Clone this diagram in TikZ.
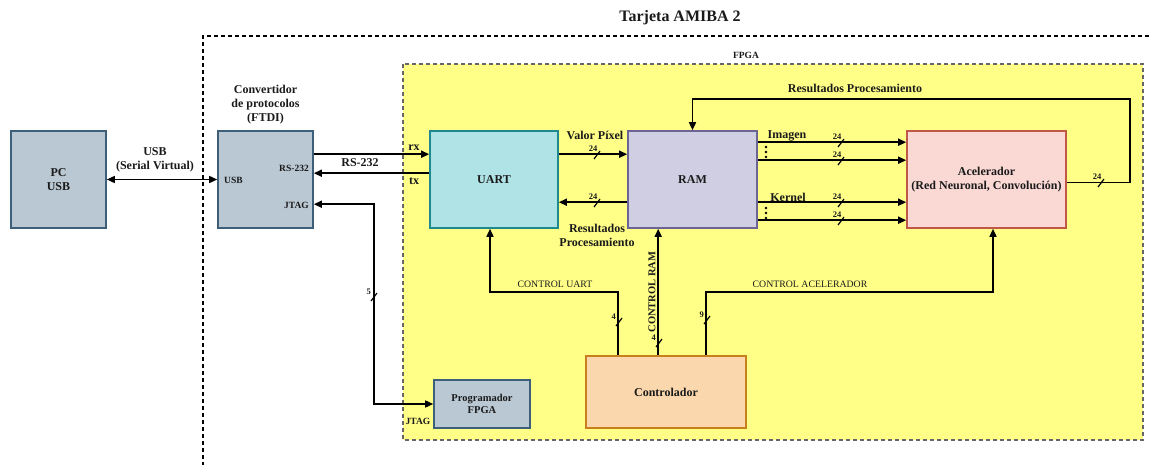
\documentclass[tikz,border=0pt]{standalone}
\usepackage{fontspec}
\setmainfont{Liberation Serif}
\usetikzlibrary{arrows.meta,calc}
\definecolor{bgfill}{HTML}{BAC8D3}
\definecolor{bgdraw}{HTML}{3D5F7A}
\definecolor{uafill}{HTML}{B0E3E6}
\definecolor{uadraw}{HTML}{1E8A90}
\definecolor{rmfill}{HTML}{D0CEE2}
\definecolor{rmdraw}{HTML}{6A6594}
\definecolor{acfill}{HTML}{FAD9D5}
\definecolor{acdraw}{HTML}{C0584A}
\definecolor{ctfill}{HTML}{FAD7AC}
\definecolor{ctdraw}{HTML}{C8801E}
\definecolor{fpgafill}{HTML}{FFFF88}
\definecolor{fpgadraw}{HTML}{666666}
\definecolor{txt}{HTML}{1A1A1A}
\begin{document}
\begin{tikzpicture}[x=1pt,y=-1pt,
  every node/.style={text=txt},
  box/.style={draw, line width=1.6pt, inner sep=0pt, align=center,
    font=\bfseries\fontsize{12}{14}\selectfont},
  lbl/.style={font=\bfseries\fontsize{12}{14}\selectfont, align=center, inner sep=0pt},
  small/.style={font=\bfseries\fontsize{9.5}{10}\selectfont, inner sep=0pt},
  ctl/.style={font=\fontsize{9.8}{11}\selectfont, inner sep=0pt},
  wire/.style={line width=1.5pt, draw=black},
  arr/.style={wire, -{Triangle[length=8pt,width=7pt]}},
  darr/.style={wire, {Triangle[length=8pt,width=7pt]}-{Triangle[length=8pt,width=7pt]}},
  bush/.pic={\draw[line width=1.2pt] (-3,4) -- (3,-4);
    \node[font=\bfseries\fontsize{8.5}{9}\selectfont, inner sep=0pt, anchor=south] at (-4,-3) {#1};},
  busv/.pic={\draw[line width=1.2pt] (-3,4) -- (3,-4);
    \node[font=\bfseries\fontsize{8.5}{9}\selectfont, inner sep=0pt, anchor=south east] at (-3,-2) {#1};},
  vdot/.style={fill=black, circle, inner sep=0pt, minimum size=2.6pt}
]
\useasboundingbox (0,0) rectangle (1150,465);
\clip (0,0) rectangle (1150,465);

% outer board
\draw[line width=1.3pt, dash pattern=on 4pt off 3pt] (203,480) -- (203,36) -- (1160,36);
\node[font=\bfseries\fontsize{16}{18}\selectfont, inner sep=0pt] (title) at (680,18) {Tarjeta AMIBA 2};

% FPGA region
\draw[fill=fpgafill, draw=fpgadraw, line width=1.3pt, dash pattern=on 4pt off 3pt] (403,64) rectangle (1143,440);
\node[small] (fpgalbl) at (746,55) {FPGA};

% blocks
\node[box, fill=bgfill, draw=bgdraw, minimum width=95pt, minimum height=97pt] (pc) at (58.5,179.5) {PC\\USB};
\node[box, fill=bgfill, draw=bgdraw, minimum width=95pt, minimum height=97pt] (conv) at (265.5,179.5) {};
\node[box, fill=uafill, draw=uadraw, minimum width=128pt, minimum height=97pt] (uart) at (494,179.5) {UART};
\node[box, fill=rmfill, draw=rmdraw, minimum width=129pt, minimum height=97pt] (ram) at (692.5,179.5) {RAM};
\node[box, fill=acfill, draw=acdraw, minimum width=159pt, minimum height=97pt] (acel) at (986.5,179.5) {Acelerador\\(Red Neuronal, Convolución)};
\node[box, fill=ctfill, draw=ctdraw, minimum width=160pt, minimum height=72pt] (ctrl) at (666,392) {Controlador};
\node[box, fill=bgfill, draw=bgdraw, minimum width=96pt, minimum height=48pt,
  font=\bfseries\fontsize{10.5}{12}\selectfont] (prog) at (482,404) {Programador\\FPGA};

% converter labels
\node[lbl] (convlbl) at (265.5,105) {Convertidor\\de protocolos\\(FTDI)};
\node[small, anchor=west] (cusb) at (224,180) {USB};
\node[small, anchor=east] (crs) at (309,168) {RS-232};
\node[small, anchor=east] (cjtag) at (309,205) {JTAG};

% PC <-> converter
\draw[darr] (pc.east) -- (conv.west);
\node[lbl] (usblbl) at (155,160) {USB\\(Serial Virtual)};

% RS-232 rx/tx
\draw[arr] ($(conv.north east)+(0,24)$) -- ($(uart.north west)+(0,24)$);
\draw[arr] ($(uart.north west)+(0,43)$) -- ($(conv.north east)+(0,43)$);
\node[lbl] (rslbl) at (360,163) {RS-232};
\node[lbl] (rxlbl) at (414,148) {rx};
\node[lbl] (txlbl) at (414,181) {tx};

% JTAG
\coordinate (jt) at (374,300);
\draw[darr] ($(conv.north east)+(0,74)$) -| (jt) |- (prog.west);
\pic at (374,297) {busv=5};
\node[small] (jtaglbl) at (418,421) {JTAG};

% UART <-> RAM
\draw[arr] ($(uart.north east)+(0,24)$) -- ($(ram.north west)+(0,24)$);
\pic at (597,155) {bush=24};
\node[lbl] (vplbl) at (595,135) {Valor Píxel};
\draw[arr] ($(ram.north west)+(0,72)$) -- ($(uart.north east)+(0,72)$);
\pic at (597,203) {bush=24};
\node[lbl] (rplbl) at (597,235) {Resultados\\Procesamiento};

% RAM -> Acelerador
\draw[arr] ($(ram.north east)+(0,12)$) -- ($(acel.north west)+(0,12)$);
\draw[arr] ($(ram.north east)+(0,30)$) -- ($(acel.north west)+(0,30)$);
\draw[arr] ($(ram.north east)+(0,72)$) -- ($(acel.north west)+(0,72)$);
\draw[arr] ($(ram.north east)+(0,90)$) -- ($(acel.north west)+(0,90)$);
\pic at (841,143) {bush=24};
\pic at (841,161) {bush=24};
\pic at (841,203) {bush=24};
\pic at (841,221) {bush=24};
\node[lbl] (imglbl) at (787,136) {Imagen};
\node[lbl] (kerlbl) at (788,197) {Kernel};
\node[vdot] (d1) at (766,147) {};
\node[vdot] (d2) at (766,152) {};
\node[vdot] (d3) at (766,157) {};
\node[vdot] (d4) at (766,208) {};
\node[vdot] (d5) at (766,213) {};
\node[vdot] (d6) at (766,218) {};

% feedback
\coordinate (fb) at (1130,99);
\draw[arr] ($(acel.east)+(0,3)$) -| (fb) -| (ram.north);
\pic at (1101,183) {bush=24};
\node[lbl] (fblbl) at (855,88) {Resultados Procesamiento};

% controller
\coordinate (cu) at (490,292);
\draw[arr] ($(ctrl.north west)+(33,0)$) |- (cu) -- ($(uart.south)+(-4,0)$);
\pic at (619,322) {busv=4};
\node[ctl] (culbl) at (555,284) {CONTROL UART};

\draw[arr] ($(ctrl.north west)+(73,0)$) -- ($(ram.south west)+(31,0)$);
\pic at (659,343) {busv=4};
\node[font=\bfseries\fontsize{10.5}{12}\selectfont, inner sep=0pt, rotate=90] (crlbl) at (652,292) {CONTROL RAM};

\coordinate (ca) at (993,292);
\draw[arr] ($(ctrl.north west)+(121,0)$) |- (ca) -- ($(acel.south)+(6.5,0)$);
\pic at (707,320) {busv=9};
\node[ctl] (calbl) at (810,284) {CONTROL ACELERADOR};
\end{tikzpicture}
\end{document}
